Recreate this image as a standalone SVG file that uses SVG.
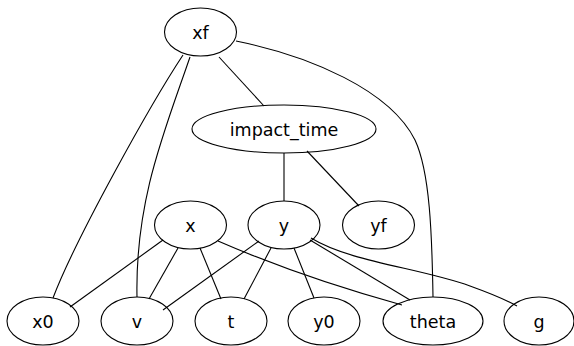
<svg xmlns="http://www.w3.org/2000/svg" width="574" height="346" viewBox="0 0 574 346">
  <style>
    .node ellipse { fill: none; stroke: #000; stroke-width: 1.1; }
    .node text { font-family: "DejaVu Sans", sans-serif; font-size: 17.5px; text-anchor: middle; fill: #000; }
    #edges path { fill: none; stroke: #000; stroke-width: 1.1; }
  </style>
  <rect width="574" height="346" fill="#fff"/>
  <g id="edges">
    <path d="M183,55 C150,105 75,240 53,298"/>
    <path d="M190,57 C165,130 135,200 137,297"/>
    <path d="M219,57 L264,106"/>
    <path d="M236,41 C310,56 390,90 415,140 C430,172 432,235 433,297"/>
    <path d="M284,153 L284,201"/>
    <path d="M307,151 L359,206"/>
    <path d="M163,240 L70,307"/>
    <path d="M178,248 L149,299"/>
    <path d="M200,248 L221,299"/>
    <path d="M218,241 C280,268 340,288 402,305"/>
    <path d="M259,241 L163,310"/>
    <path d="M271,248 L244,299"/>
    <path d="M294,248 L314,298"/>
    <path d="M310,240 L410,300"/>
    <path d="M311,238 C350,262 420,268 470,286 C495,295 508,301 517,306"/>
  </g>
  <g id="xf" class="node"><ellipse cx="200.5" cy="32" rx="36" ry="24"/><text x="200.5" y="38.5">xf</text></g>
  <g id="impact_time" class="node"><ellipse cx="284" cy="129" rx="92" ry="24"/><text x="284" y="135.5">impact_time</text></g>
  <g id="x" class="node"><ellipse cx="190.5" cy="225" rx="36" ry="24"/><text x="190.5" y="231.5">x</text></g>
  <g id="y" class="node"><ellipse cx="284" cy="225" rx="36" ry="24"/><text x="284" y="231.5">y</text></g>
  <g id="yf" class="node"><ellipse cx="378.5" cy="225" rx="36" ry="24"/><text x="378.5" y="231.5">yf</text></g>
  <g id="x0" class="node"><ellipse cx="43" cy="321" rx="36" ry="24"/><text x="43" y="327.5">x0</text></g>
  <g id="v" class="node"><ellipse cx="137" cy="321" rx="36" ry="24"/><text x="137" y="327.5">v</text></g>
  <g id="t" class="node"><ellipse cx="231" cy="321" rx="36" ry="24"/><text x="231" y="327.5">t</text></g>
  <g id="y0" class="node"><ellipse cx="324" cy="321" rx="36" ry="24"/><text x="324" y="327.5">y0</text></g>
  <g id="theta" class="node"><ellipse cx="433" cy="321" rx="50" ry="24"/><text x="433" y="327.5">theta</text></g>
  <g id="g" class="node"><ellipse cx="539" cy="321" rx="35" ry="24"/><text x="539" y="327.5">g</text></g>
</svg>
